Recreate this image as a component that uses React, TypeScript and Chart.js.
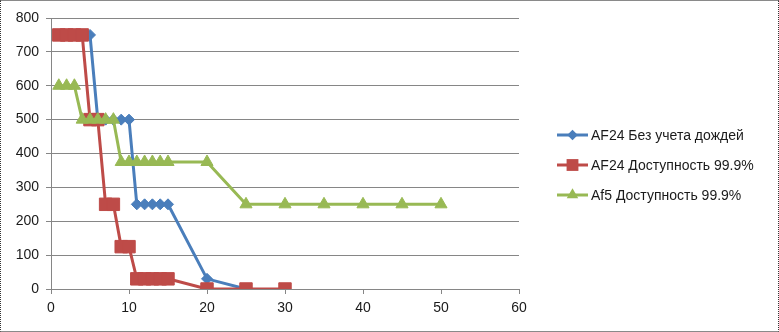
import React, { useEffect, useRef } from "react";
import { Chart, registerables } from "chart.js";

Chart.register(...registerables);

const seriesNames = ["AF24 Без учета дождей", "AF24 Доступность 99.9%", "Af5 Доступность 99.9%"];

const blueX = [1, 2, 3, 4, 5, 6, 7, 8, 9, 10, 11, 12, 13, 14, 15, 20, 25];
const blueY = [750, 750, 750, 750, 750, 500, 500, 500, 500, 500, 250, 250, 250, 250, 250, 30, 0];

const redX = [1, 2, 3, 4, 5, 6, 7, 8, 9, 10, 11, 12, 13, 14, 15, 20, 25, 30];
const redY = [750, 750, 750, 750, 500, 500, 250, 250, 125, 125, 30, 30, 30, 30, 30, 0, 0, 0];

const greenX = [1, 2, 3, 4, 5, 6, 7, 8, 9, 10, 11, 12, 13, 14, 15, 20, 25, 30, 35, 40, 45, 50];
const greenY = [600, 600, 600, 500, 500, 500, 500, 500, 375, 375, 375, 375, 375, 375, 375, 375, 250, 250, 250, 250, 250, 250];

const xMin = 0;
const xMax = 60;
const xStep = 10;
const yMin = 0;
const yMax = 800;
const yStep = 100;

const BLUE = "#4A7EBB";
const RED = "#BE4B48";
const GREEN = "#98B954";
const GRID = "#868686";
const FONT = "'Liberation Sans', Arial, sans-serif";

const toPts = (xs: number[], ys: number[]) => xs.map((x, i) => ({ x, y: ys[i] }));

const legendPlugin = {
  id: "excelLegend",
  afterDraw(chart: any) {
    const ctx = chart.ctx;
    const area = chart.chartArea;
    const ds = chart.data.datasets;
    const startX = area.right + 38;
    const rowGap = 30;
    const centerY = 165 - 1;
    const y0 = centerY - ((ds.length - 1) * rowGap) / 2;
    ctx.save();
    ds.forEach((d: any, i: number) => {
      const y = y0 + i * rowGap;
      ctx.strokeStyle = d.borderColor;
      ctx.lineWidth = d.borderWidth;
      ctx.beginPath();
      ctx.moveTo(startX, y);
      ctx.lineTo(startX + 31, y);
      ctx.stroke();
      const style = d.pointStyle;
      const r = (d.pointRadius as number) * 0.95;
      ctx.fillStyle = d.pointBackgroundColor;
      ctx.beginPath();
      const cx = startX + 15.5;
      if (style === "rect") {
        const s = r * Math.SQRT1_2;
        ctx.rect(cx - s, y - s, 2 * s, 2 * s);
      } else if (style === "rectRot") {
        ctx.moveTo(cx, y - r);
        ctx.lineTo(cx + r, y);
        ctx.lineTo(cx, y + r);
        ctx.lineTo(cx - r, y);
        ctx.closePath();
      } else {
        ctx.moveTo(cx, y - r);
        ctx.lineTo(cx + r * 0.866, y + r * 0.5);
        ctx.lineTo(cx - r * 0.866, y + r * 0.5);
        ctx.closePath();
      }
      ctx.fill();
      ctx.fillStyle = "#1a1a1a";
      ctx.font = `14px ${FONT}`;
      ctx.textBaseline = "middle";
      ctx.textAlign = "left";
      ctx.fillText(d.label, startX + 34, y + 1);
    });
    ctx.restore();
  },
};

export default function App() {
  const ref = useRef<HTMLCanvasElement | null>(null);

  useEffect(() => {
    if (!ref.current) return;
    const mk = (label: string, xs: number[], ys: number[], color: string, style: string, radius: number, order: number) => ({
      label,
      data: toPts(xs, ys),
      borderColor: color,
      backgroundColor: color,
      pointBackgroundColor: color,
      pointBorderColor: color,
      pointBorderWidth: 1,
      pointStyle: style,
      pointRadius: radius,
      pointHoverRadius: radius,
      borderWidth: 3,
      showLine: true,
      fill: false,
      tension: 0,
      order,
    });
    const chart = new Chart(ref.current, {
      type: "scatter",
      data: {
        datasets: [
          mk(seriesNames[0], blueX, blueY, BLUE, "rectRot", 5.5, 2),
          mk(seriesNames[1], redX, redY, RED, "rect", 8.8, 1),
          mk(seriesNames[2], greenX, greenY, GREEN, "triangle", 7, 0),
        ] as any,
      },
      options: {
        animation: false,
        responsive: false,
        maintainAspectRatio: false,
        layout: { padding: { left: 0, right: 259, top: 17, bottom: 0 } },
        plugins: {
          legend: { display: false },
          tooltip: { enabled: false },
        },
        scales: {
          x: {
            type: "linear",
            min: xMin,
            max: xMax,
            ticks: { stepSize: xStep, color: "#1a1a1a", font: { family: FONT, size: 14 }, padding: 6 },
            grid: { drawOnChartArea: false, drawTicks: true, tickLength: 5, color: GRID },
            border: { color: GRID, width: 1 },
            afterFit: (s: any) => { s.height = 42; },
          },
          y: {
            type: "linear",
            min: yMin,
            max: yMax,
            ticks: { stepSize: yStep, color: "#1a1a1a", font: { family: FONT, size: 14 }, padding: 7 },
            grid: { drawOnChartArea: true, drawTicks: true, tickLength: 5, color: GRID },
            border: { color: GRID, width: 1 },
            afterFit: (s: any) => { s.width = 50; },
          },
        },
      },
      plugins: [legendPlugin],
    });
    return () => chart.destroy();
  }, []);

  return (
    <div
      style={{
        position: "fixed",
        left: 0,
        top: 0,
        width: 779,
        height: 332,
        boxSizing: "border-box",
        background: "#fff",
        borderTop: "1px solid #8a8a8a",
        borderBottom: "1px solid #8a8a8a",
        borderLeft: "1px dotted #333",
        borderRight: "1px dotted #333",
      }}
    >
      <canvas ref={ref} width={777} height={330} style={{ display: "block" }} />
    </div>
  );
}
